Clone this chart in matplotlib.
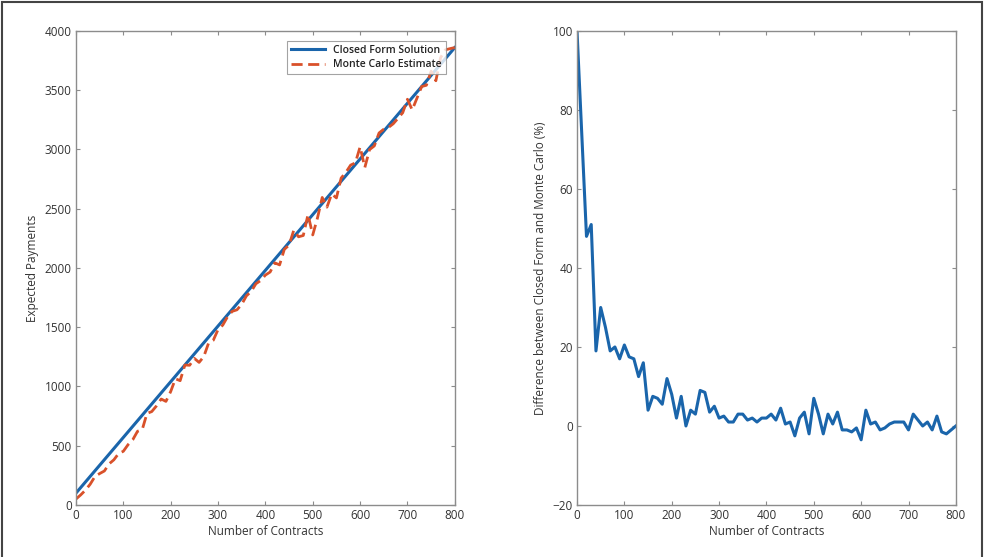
import numpy as np
import matplotlib
matplotlib.use('Agg')
import matplotlib.pyplot as plt
from matplotlib.patches import Rectangle


# number of contracts (every 10)
contracts = np.arange(0, 810, 10)

# closed form is a straight line
cf_contracts = [0, 800]
closed_form = [100, 3860]

monte_carlo = [
    50, 85, 125, 175, 240, 265, 287, 347, 381, 434,
    453, 509, 551, 622, 637, 773, 788, 836, 894, 874,
    957, 1065, 1049, 1181, 1179, 1237, 1203, 1253, 1366, 1390,
    1480, 1518, 1588, 1634, 1647, 1693, 1765, 1802, 1867, 1894,
    1940, 1966, 2043, 2026, 2157, 2193, 2319, 2263, 2274, 2451,
    2279, 2422, 2595, 2513, 2625, 2591, 2759, 2807, 2868, 2887,
    3022, 2848, 2999, 3030, 3139, 3171, 3186, 3217, 3263, 3310,
    3424, 3334, 3432, 3531, 3542, 3661, 3580, 3775, 3841, 3851,
    3860,
]

pct_diff = [
    100, 74, 48, 51, 19, 30, 25, 19, 20, 17,
    20.5, 17.5, 17, 12.5, 16, 4, 7.5, 7, 5.5, 12,
    8, 2, 7.5, 0, 4, 3, 9, 8.5, 3.5, 5,
    2, 2.5, 1, 1, 3, 3, 1.5, 2, 1, 2,
    2, 3, 1.5, 4.5, 0.5, 1, -2.5, 2, 3.5, -2,
    7, 3, -2, 3, 0.5, 3.5, -1, -1, -1.5, -0.5,
    -3.5, 4, 0.5, 1, -1, -0.5, 0.5, 1, 1, 1,
    -1, 3, 1.5, 0, 1, -1, 2.5, -1.5, -2, -1,
    0,
]

BLUE = '#1a65ab'
RED = '#d9512a'
AXC = '#8c8c8c'
TXT = '#333333'

plt.rcParams['font.family'] = ['Open Sans', 'DejaVu Sans']
plt.rcParams['font.size'] = 8.5


def style_axes(ax):
    for s in ax.spines.values():
        s.set_color(AXC)
        s.set_linewidth(1.0)
    ax.tick_params(direction='in', length=3, color=AXC, labelcolor=TXT,
                   top=True, right=True, labelsize=8.5, pad=3)


fig = plt.figure(figsize=(9.84, 5.57), dpi=100)
fig.patches.append(Rectangle((0.002, -0.01), 0.996, 1.006, transform=fig.transFigure,
                             fill=False, edgecolor='#444444', linewidth=1.5))

ax1 = fig.add_axes([0.0772, 0.0934, 0.385, 0.851])
ax1.plot(cf_contracts, closed_form, color=BLUE, lw=2.2, label='Closed Form Solution')
ax1.plot(contracts, monte_carlo, color=RED, lw=2.0, linestyle=(0, (4, 2)),
         label='Monte Carlo Estimate')
ax1.set_xlim(0, 800)
ax1.set_ylim(0, 4000)
ax1.set_xticks(range(0, 801, 100))
ax1.set_yticks(range(0, 4001, 500))
ax1.set_xlabel('Number of Contracts', color=TXT, labelpad=2)
ax1.set_ylabel('Expected Payments', color=TXT, labelpad=4)
style_axes(ax1)
leg = ax1.legend(loc='upper right', fontsize=7.5, frameon=True, fancybox=False,
                 borderpad=0.4, handlelength=3.2, labelspacing=0.3,
                 bbox_to_anchor=(0.99, 0.99))
leg.get_frame().set_edgecolor(AXC)
leg.get_frame().set_linewidth(0.8)
for t in leg.get_texts():
    t.set_color('#222222')
    t.set_fontweight('semibold')

ax2 = fig.add_axes([0.5864, 0.0934, 0.385, 0.851])
ax2.plot(contracts, pct_diff, color=BLUE, lw=2.2)
ax2.set_xlim(0, 800)
ax2.set_ylim(-20, 100)
ax2.set_xticks(range(0, 801, 100))
ax2.set_yticks(range(-20, 101, 20))
ax2.set_xlabel('Number of Contracts', color=TXT, labelpad=2)
ax2.set_ylabel('Difference between Closed Form and Monte Carlo (%)', color=TXT, labelpad=4)
style_axes(ax2)

fig.savefig('out.png', dpi=100)
